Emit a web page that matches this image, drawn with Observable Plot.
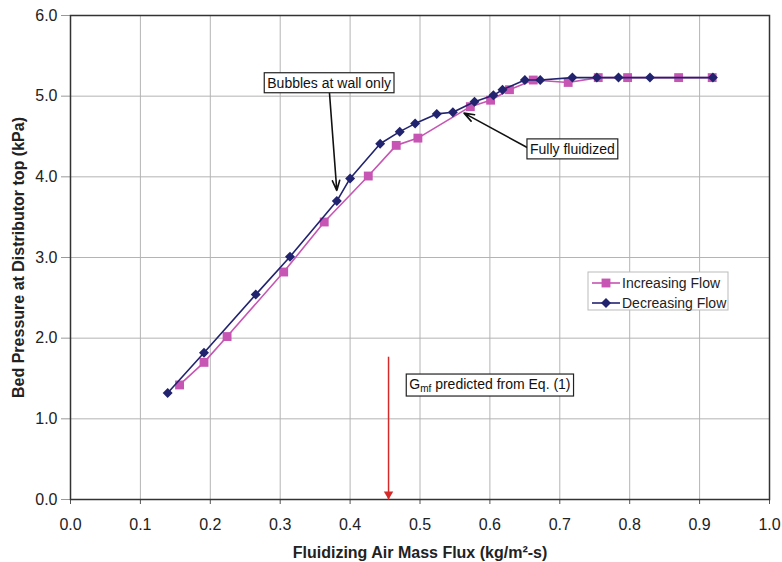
<!DOCTYPE html>
<html><head><meta charset="utf-8">
<script src="https://cdn.jsdelivr.net/npm/d3@7"></script>
<script src="https://cdn.jsdelivr.net/npm/@observablehq/plot@0.6"></script>
<style>body{margin:0;background:#fff} #chart{width:782px;height:562px}</style>
</head><body><div id="chart"></div>
<script>
// ---- data ----
const seriesNames = ["Increasing Flow", "Decreasing Flow"];
const xIncreasing = [0.156,0.191,0.224,0.305,0.363,0.426,0.466,0.497,0.572,0.601,0.628,0.662,0.712,0.755,0.797,0.870,0.918];
const yIncreasing = [1.42,1.70,2.02,2.82,3.44,4.01,4.39,4.48,4.87,4.95,5.08,5.20,5.17,5.23,5.23,5.23,5.23];
const xDecreasing = [0.139,0.191,0.265,0.314,0.381,0.400,0.443,0.471,0.493,0.524,0.547,0.578,0.605,0.618,0.650,0.672,0.718,0.753,0.784,0.829,0.919];
const yDecreasing = [1.32,1.82,2.54,3.01,3.70,3.98,4.41,4.56,4.66,4.78,4.80,4.93,5.01,5.08,5.20,5.20,5.23,5.23,5.23,5.23,5.23];
const xTicks = [0,0.1,0.2,0.3,0.4,0.5,0.6,0.7,0.8,0.9,1.0];
const yTicks = [0,1,2,3,4,5,6];
const xTitle = "Fluidizing Air Mass Flux (kg/m²-s)";
const yTitle = "Bed Pressure at Distributor top (kPa)";
const noteLabels = ["Bubbles at wall only", "Fully fluidized", "Gmf predicted from Eq. (1)"];
const noteX = [0.370, 0.718, 0.600];
const noteY = [5.16, 4.34, 1.425];
const blackArrows = [{x1:0.3705, y1:5.04, x2:0.381, y2:3.83}, {x1:0.654, y1:4.36, x2:0.563, y2:4.79}];
const gmfX = 0.455, gmfTop = 1.77;

const colInc = "#c655b3", colDec = "#21236f";
const inc = xIncreasing.map((x,i)=>({x, y:yIncreasing[i]}));
const dec = xDecreasing.map((x,i)=>({x, y:yDecreasing[i]}));
const notes = noteLabels.map((label,i)=>({label, x:noteX[i], y:noteY[i]}));
const fmt = d3.format(".1f");
const font = "'Liberation Sans', Arial, sans-serif";
const rSq = 5.0, rDi = 4.5;

const plot = Plot.plot({
  width:782, height:562, marginLeft:70, marginRight:13, marginTop:15, marginBottom:63,
  style:{fontFamily:font, fontSize:"16px", color:"#222", background:"#fff", overflow:"visible"},
  x:{domain:[0,1]},
  y:{domain:[0,6]},
  marks:[
    Plot.gridX(xTicks, {stroke:"#b4b4b4", strokeOpacity:1}),
    Plot.gridY(yTicks, {stroke:"#b4b4b4", strokeOpacity:1}),
    Plot.axisX({ticks:xTicks, tickFormat:fmt, tickSize:5, tickPadding:14, label:null, stroke:"#555", fill:"#222"}),
    Plot.axisY({ticks:yTicks, tickFormat:fmt, tickSize:9, tickPadding:4, label:null, stroke:"#999", fill:"#222"}),
    Plot.frame({stroke:"#333", strokeWidth:1.5}),
    Plot.text([xTitle], {frameAnchor:"bottom", dy:58, fontWeight:"bold", fontSize:16, fill:"#222"}),
    Plot.text([yTitle], {frameAnchor:"left", textAnchor:"middle", rotate:-90, dx:-52, fontWeight:"bold", fontSize:16, fill:"#222"}),
    Plot.line(inc, {x:"x", y:"y", stroke:colInc, strokeWidth:1.6}),
    Plot.dot(inc, {x:"x", y:"y", symbol:"square", r:rSq, fill:colInc}),
    Plot.line(dec, {x:"x", y:"y", stroke:colDec, strokeWidth:1.6}),
    Plot.dot(dec, {x:"x", y:"y", symbol:"diamond2", r:rDi, fill:colDec}),
    Plot.arrow(blackArrows, {x1:"x1", y1:"y1", x2:"x2", y2:"y2", stroke:"#111", strokeWidth:1.6, headLength:10, headAngle:40}),
    Plot.link([{x:gmfX, y1:gmfTop, y2:0}], {x1:"x", x2:"x", y1:"y1", y2:"y2", stroke:"#d42a2a", strokeWidth:1.5}),
    Plot.dot([{x:gmfX, y:0}], {x:"x", y:"y", symbol:"triangle", rotate:180, r:3.5, dy:-5.4, fill:"#d42a2a"}),
    Plot.text(notes, {x:"x", y:"y", text:"label", fontSize:14, fill:"#111"})
  ]
});
document.getElementById("chart").appendChild(plot);

// annotation boxes + subscript
const svg = d3.select(plot);
svg.selectAll("text").each(function(){
  const t = this.textContent;
  if (!noteLabels.includes(t)) return;
  const el = d3.select(this);
  if (t.startsWith("Gmf")) {
    el.text(null);
    el.append("tspan").text("G");
    el.append("tspan").attr("font-size", 10).attr("dy", 3).text("mf");
    el.append("tspan").attr("dy", -3).text(" predicted from Eq. (1)");
  }
  const b = this.getBBox();
  const tr = this.getAttribute("transform");
  const r = d3.select(this.parentNode).insert("rect", () => this)
    .attr("x", b.x - 3).attr("y", b.y - 2).attr("width", b.width + 6).attr("height", b.height + 4)
    .attr("fill", "#fff").attr("stroke", "#222").attr("stroke-width", 1.2);
  if (tr) r.attr("transform", tr);
});

// legend
const lg = svg.append("g").attr("transform", "translate(588,272)").attr("font-family", font).attr("font-size", 14).attr("text-anchor", "start");
lg.append("rect").attr("width", 140).attr("height", 38).attr("fill", "#fff").attr("stroke", "#bbb");
[colInc, colDec].forEach((c,i)=>{
  const y = 11 + i*20;
  lg.append("line").attr("x1", 4).attr("x2", 32).attr("y1", y).attr("y2", y).attr("stroke", c).attr("stroke-width", 1.6);
  const sym = d3.symbol(i === 0 ? d3.symbolSquare : d3.symbolDiamond2, i === 0 ? Math.PI*rSq*rSq : Math.PI*rDi*rDi);
  lg.append("path").attr("d", sym()).attr("transform", `translate(18,${y})`).attr("fill", c);
  lg.append("text").attr("x", 34).attr("y", y).attr("dy", "0.35em").attr("fill", "#222").text(seriesNames[i]);
});
</script>
</body></html>
